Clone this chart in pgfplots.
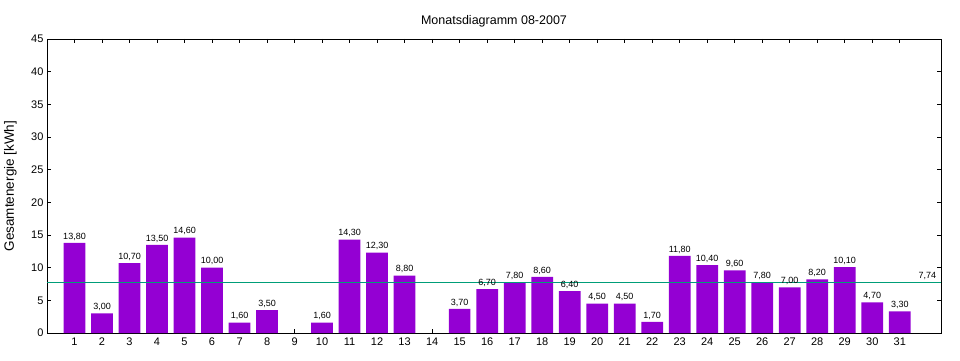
\documentclass[border=0pt]{standalone}
\usepackage{pgfplots}
\pgfplotsset{compat=1.18}
\usepackage{fontspec}
\setmainfont{Liberation Sans}
\definecolor{barc}{RGB}{148,0,211}
\definecolor{avgc}{RGB}{0,158,120}
\begin{document}
\begin{tikzpicture}[x=1bp,y=1bp]
\useasboundingbox (0,0) rectangle (960,360);
\begin{axis}[
  at={(47bp,27bp)}, anchor=south west,
  scale only axis, width=894bp, height=294bp,
  xmin=0, xmax=32.5, ymin=0, ymax=45,
  xtick={1,...,31}, ytick={0,5,...,45},
  tick align=inside, major tick length=4bp,
  axis line style={line width=0.8pt}, tick style={black, line width=0.6pt},
  /pgf/number format/assume math mode=true,
  ticklabel style={font=\fontsize{11bp}{12bp}\selectfont},
  xticklabel style={yshift=-1bp},
  title={Monatsdiagramm 08-2007},
  title style={font=\fontsize{12.5bp}{14bp}\selectfont, yshift=2bp},
  ylabel={Gesamtenergie [kWh]},
  ylabel style={font=\fontsize{13.5bp}{15bp}\selectfont, at={(axis description cs:-0.041,0.5)}, anchor=center},
  nodes near coords,
  every node near coord/.append style={font=\fontsize{9bp}{10bp}\selectfont, yshift=-1bp},
  nodes near coords style={/pgf/number format/.cd, fixed, zerofill, precision=2, use comma, assume math mode=true},
]
\addplot[ybar, bar width=0.79, fill=barc, draw=none, bar shift=0pt] coordinates {
(1,13.8) (2,3.0) (3,10.7) (4,13.5) (5,14.6) (6,10.0) (7,1.6) (8,3.5)
(10,1.6) (11,14.3) (12,12.3) (13,8.8) (15,3.7) (16,6.7) (17,7.8) (18,8.6)
(19,6.4) (20,4.5) (21,4.5) (22,1.7) (23,11.8) (24,10.4) (25,9.6) (26,7.8)
(27,7.0) (28,8.2) (29,10.1) (30,4.7) (31,3.3)
};
\addplot[avgc, line width=1.3pt, no markers, nodes near coords={}] coordinates {(0,7.74) (32.5,7.74)};
\addplot[only marks, mark=none, nodes near coords] coordinates {(32,7.74)};
\end{axis}
\end{tikzpicture}
\end{document}
